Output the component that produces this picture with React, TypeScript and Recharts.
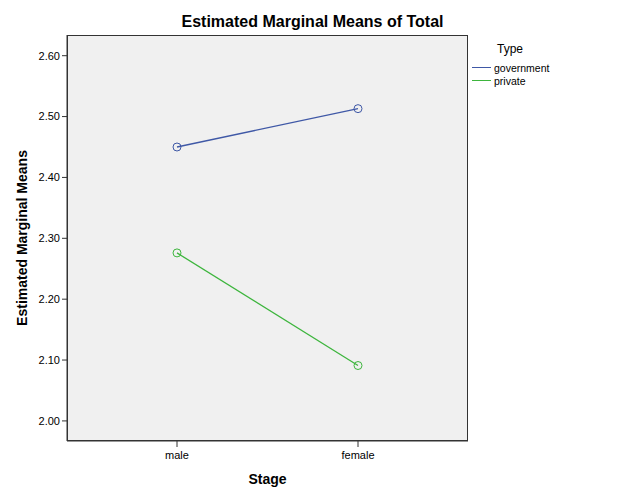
import React from "react";
import {
  LineChart,
  Line,
  XAxis,
  YAxis,
  CartesianGrid,
  Legend,
} from "recharts";

const stages = ["male", "female"];
const government = [2.45, 2.513];
const privateMeans = [2.276, 2.091];
const yTicks = [2.0, 2.1, 2.2, 2.3, 2.4, 2.5, 2.6];

const SERIES = [
  { key: "government", name: "government", color: "#3f58a6" },
  { key: "private", name: "private", color: "#3db53d" },
];

const data = stages.map((stage, i) => ({
  stage,
  government: government[i],
  private: privateMeans[i],
}));

const FONT = "'Liberation Sans', Arial, sans-serif";

function OpenDot(props: any) {
  const { cx, cy, stroke } = props;
  if (cx == null || cy == null) return null;
  return <circle cx={cx} cy={cy} r={4} fill="none" stroke={stroke} strokeWidth={1} />;
}

function TypeLegend() {
  return (
    <div style={{ fontFamily: FONT, color: "#000" }}>
      <div style={{ fontSize: 12, marginLeft: 25, marginBottom: 5 }}>Type</div>
      {SERIES.map((s) => (
        <div key={s.key} style={{ display: "flex", alignItems: "center", height: 13, fontSize: 10.5 }}>
          <div style={{ width: 19, height: 1.5, background: s.color, marginRight: 3 }} />
          <span>{s.name}</span>
        </div>
      ))}
    </div>
  );
}

export default function App() {
  return (
    <div style={{ position: "absolute", left: 0, top: 0, width: 625, height: 500, background: "#fff" }}>
      <div
        style={{
          position: "absolute",
          left: 0,
          top: 13,
          width: 625,
          textAlign: "center",
          fontFamily: FONT,
          fontWeight: "bold",
          fontSize: 16,
          color: "#000",
        }}
      >
        Estimated Marginal Means of Total
      </div>
      <LineChart
        width={625}
        height={500}
        data={data}
        margin={{ top: 35, right: 157, left: 7, bottom: 29 }}
      >
        <CartesianGrid horizontal={false} vertical={false} fill="#f0f0f0" />
        <XAxis
          dataKey="stage"
          scale="point"
          padding={{ left: 110, right: 110 }}
          height={30}
          tick={{ fontSize: 11, fill: "#000", fontFamily: FONT, dy: 2 }}
          tickSize={6}
          axisLine={{ stroke: "#333" }}
          tickLine={{ stroke: "#333" }}
          label={{
            content: (p: any) => {
              const vb = p.viewBox;
              return (
                <text
                  x={vb.x + vb.width / 2}
                  y={484}
                  textAnchor="middle"
                  fontFamily={FONT}
                  fontWeight="bold"
                  fontSize={14}
                  fill="#000"
                >
                  Stage
                </text>
              );
            },
          }}
        />
        <YAxis
          domain={[1.967, 2.634]}
          allowDataOverflow
          ticks={yTicks}
          interval={0}
          width={60}
          tickFormatter={(v: number) => v.toFixed(2)}
          tick={{ fontSize: 11, fill: "#000", fontFamily: FONT }}
          tickSize={5}
          axisLine={{ stroke: "#333" }}
          tickLine={{ stroke: "#333" }}
          label={{
            content: (p: any) => {
              const vb = p.viewBox;
              const cy = vb.y + vb.height / 2;
              return (
                <text
                  x={27}
                  y={cy}
                  transform={`rotate(-90, 27, ${cy})`}
                  textAnchor="middle"
                  fontFamily={FONT}
                  fontWeight="bold"
                  fontSize={14}
                  fill="#000"
                >
                  Estimated Marginal Means
                </text>
              );
            },
          }}
        />
        <Legend
          layout="horizontal"
          verticalAlign="middle"
          align="center"
          content={<TypeLegend />}
          wrapperStyle={{ position: "absolute", left: 472, top: 42, width: 130 }}
        />
        {SERIES.map((s) => (
          <Line
            key={s.key}
            dataKey={s.key}
            name={s.name}
            stroke={s.color}
            strokeWidth={1.3}
            dot={<OpenDot />}
            activeDot={false}
            isAnimationActive={false}
          />
        ))}
      </LineChart>
      {/* plot frame: the top and right sides are not drawn by the axes */}
      <div
        style={{
          position: "absolute",
          left: 67,
          top: 35,
          width: 401,
          height: 406,
          boxSizing: "border-box",
          border: "1px solid #333",
          pointerEvents: "none",
        }}
      />
    </div>
  );
}
